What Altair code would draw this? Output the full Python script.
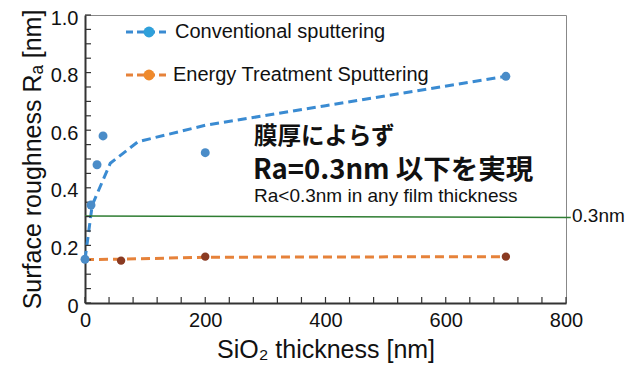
import altair as alt
import pandas as pd

# ---- data ----
conv_x = [0, 10, 20, 30, 200, 700]
conv_y = [0.152, 0.34, 0.48, 0.58, 0.522, 0.787]
conv_fit_x = [0, 12, 42, 88, 200, 400, 700]
conv_fit_y = [0.15, 0.34, 0.485, 0.56, 0.617, 0.685, 0.787]

ets_x = [60, 200, 700]
ets_y = [0.147, 0.161, 0.161]
ets_fit_x = [0, 60, 200, 700]
ets_fit_y = [0.151, 0.152, 0.159, 0.161]

thr_x = [0, 808]
thr_y = [0.302, 0.297]
thr_label = "0.3nm"

series = ["Conventional sputtering", "Energy Treatment Sputtering"]
x_labels = [0, 200, 400, 600, 800]
y_labels = [0, 0.2, 0.4, 0.6, 0.8, 1.0]
x_minor = list(range(0, 801, 40))
y_minor = [i * 0.05 for i in range(21)]
notes = ["膜厚によらず", "Ra=0.3nm 以下を実現", "Ra<0.3nm in any film thickness"]

W, H = 481, 288
FONT = "Liberation Sans"
JP = "Noto Sans CJK JP"

xs = alt.Scale(domain=[0, 800], nice=False, clamp=False)
ys = alt.Scale(domain=[0, 1], nice=False)

conv_df = pd.DataFrame({"x": conv_x, "y": conv_y})
conv_fit_df = pd.DataFrame({"x": conv_fit_x, "y": conv_fit_y})
ets_df = pd.DataFrame({"x": ets_x, "y": ets_y})
ets_fit_df = pd.DataFrame({"x": ets_fit_x, "y": ets_fit_y})
thr_df = pd.DataFrame({"x": thr_x, "y": thr_y})

xaxis = alt.Axis(values=x_labels, ticks=False, grid=False, labelFontSize=20, labelFont=FONT,
                 labelColor="#111", labelPadding=7, domainColor="#333", domainWidth=2,
                 title="SiO₂ thickness [nm]", titleFont=FONT, titleFontSize=25,
                 titleFontWeight="normal", titleColor="#111", titlePadding=7, labelFlush=False)
yaxis = alt.Axis(values=y_labels, ticks=False, grid=False, labelFontSize=20, labelFont=FONT,
                 labelColor="#111", labelPadding=7, domainColor="#333", domainWidth=2,
                 labelOffset=3,
                 labelExpr="datum.value == 0 ? '0' : format(datum.value, '.1f')",
                 title="Surface roughness Rₐ [nm]", titleFont=FONT, titleFontSize=25,
                 titleFontWeight="normal", titleColor="#111", titlePadding=5, labelFlush=False)

base_x = alt.X("x:Q", scale=xs, axis=xaxis)
base_y = alt.Y("y:Q", scale=ys, axis=yaxis)

conv_line = alt.Chart(conv_fit_df).mark_line(color="#3A8BD2", strokeWidth=3, strokeDash=[9, 5]).encode(
    x=base_x, y=base_y)
ets_line = alt.Chart(ets_fit_df).mark_line(color="#E6823A", strokeWidth=3, strokeDash=[9, 5]).encode(
    x="x:Q", y="y:Q")
conv_pts = alt.Chart(conv_df).mark_circle(color="#4A8CC8", opacity=1, size=80).encode(x="x:Q", y="y:Q")
ets_pts = alt.Chart(ets_df).mark_circle(color="#8A3A22", opacity=1, size=70).encode(x="x:Q", y="y:Q")
thr_line = alt.Chart(thr_df).mark_line(color="#2E7D32", strokeWidth=1.6, clip=False).encode(
    x="x:Q", y="y:Q")
thr_text = alt.Chart(pd.DataFrame({"t": [thr_label]})).mark_text(
    align="left", baseline="middle", fontSize=19, font=FONT, color="#111").encode(
    x=alt.value(W + 6), y=alt.value(201), text="t:N")

# inside minor ticks
xt = alt.Chart(pd.DataFrame({"x": x_minor})).mark_rule(color="#333", strokeWidth=1.2).encode(
    x="x:Q", y=alt.value(H), y2=alt.value(H - 6))
yt = alt.Chart(pd.DataFrame({"y": y_minor})).mark_rule(color="#333", strokeWidth=1.2).encode(
    y="y:Q", x=alt.value(0), x2=alt.value(6))

# legend
leg_df = pd.DataFrame({"s": series, "ly": [17, 60], "tx": [90, 88]})
leg_colors = ["#3A8BD2", "#E6823A"]
leg_mk = ["#2FA0DA", "#EF8A2C"]
leg_layers = []
for i, s in enumerate(series):
    d = leg_df.iloc[[i]]
    ly = int(d.ly.iloc[0])
    leg_layers.append(alt.Chart(d).mark_rule(color=leg_colors[i], strokeWidth=3, strokeDash=[7, 4]).encode(
        x=alt.value(41), x2=alt.value(83), y=alt.value(ly)))
    leg_layers.append(alt.Chart(d).mark_point(filled=True, color=leg_mk[i], opacity=1, size=120, shape="circle").encode(
        x=alt.value(64), y=alt.value(ly)))
    leg_layers.append(alt.Chart(d).mark_text(align="left", baseline="middle", fontSize=20, font=FONT,
                                              color="#111").encode(
        x=alt.value(int(d.tx.iloc[0])), y=alt.value(ly), text="s:N"))

# annotations
n1 = alt.Chart(pd.DataFrame({"t": [notes[0]]})).mark_text(align="left", baseline="middle", fontSize=23.5,
    font=JP, fontWeight="bold", color="#111").encode(x=alt.value(169), y=alt.value(122), text="t:N")
n2 = alt.Chart(pd.DataFrame({"t": [notes[1]]})).mark_text(align="left", baseline="middle", fontSize=27.5,
    font=JP, fontWeight="bold", color="#111").encode(x=alt.value(168), y=alt.value(156), text="t:N")
n3 = alt.Chart(pd.DataFrame({"t": [notes[2]]})).mark_text(align="left", baseline="middle", fontSize=19,
    font=FONT, color="#111").encode(x=alt.value(169), y=alt.value(181), text="t:N")

chart = alt.layer(conv_line, ets_line, thr_line, thr_text, xt, yt, ets_pts, conv_pts, n1, n2, n3,
                  *leg_layers).properties(
    width=W, height=H,
    autosize=alt.AutoSizeParams(type="none"),
    padding={"left": 77, "top": 7, "right": 60, "bottom": 60},
    background="white",
).configure_view(stroke="#888", strokeWidth=1)

chart.save("out.html", embed_options={"renderer": "svg", "actions": False})
